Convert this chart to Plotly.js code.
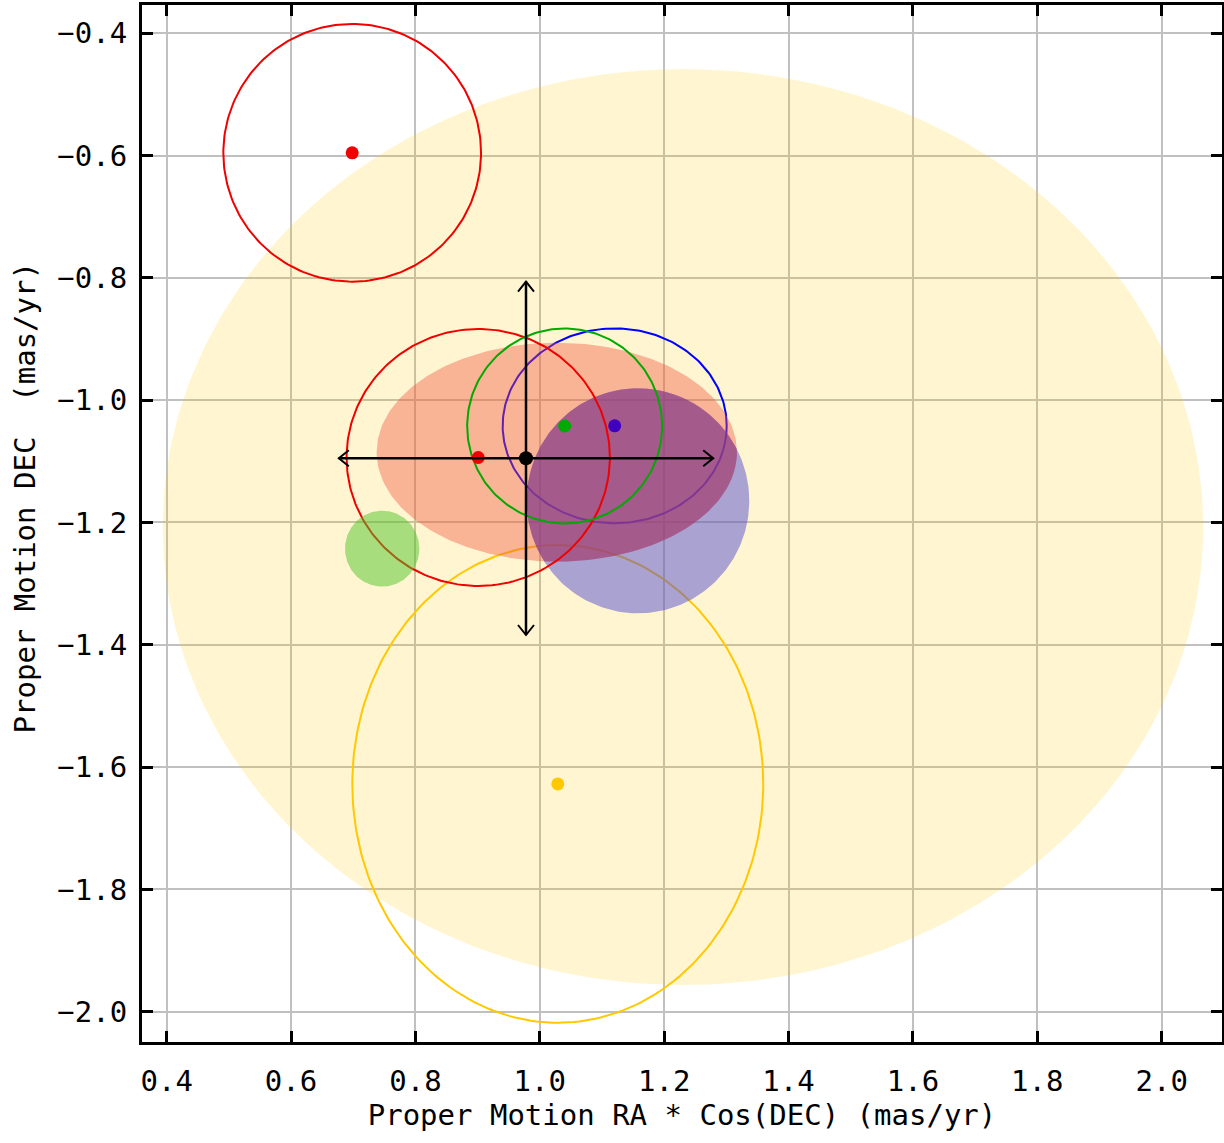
<!DOCTYPE html>
<html>
<head>
<meta charset="utf-8">
<script src="https://cdn.plot.ly/plotly-3.0.1.min.js"></script>
<style>html,body{margin:0;padding:0;background:#fff;}#chart{width:1224px;height:1143px;}</style>
</head>
<body>
<div id="chart"></div>
<script>
// ---------- data ----------
// filled uncertainty regions
const regionNames  = ['yellow region', 'salmon region', 'purple region', 'green region'];
const regionCX     = [1.2302, 1.0273, 1.1578, 0.7465];
const regionCY     = [-1.2074, -1.0850, -1.1645, -1.2428];
const regionRX     = [0.8366, 0.2897, 0.1790, 0.0598];
const regionRY     = [0.7490, 0.1790, 0.1840, 0.0621];

// measured proper motions (point + error circle)
const pmNames = ['red upper', 'red centre', 'green', 'blue', 'orange'];
const pmRA    = [0.6983, 0.9010, 1.0400, 1.1204, 1.0289];
const pmDEC   = [-0.5954, -1.0937, -1.0422, -1.0419, -1.6275];
const pmErrRA = [0.2072, 0.2117, 0.1568, 0.1801, 0.3304];
const pmErrDE = [0.2107, 0.2101, 0.1594, 0.1594, 0.3906];

// mean proper motion with error arrows
const meanRA = [0.9778];
const meanDEC = [-1.0950];
const meanErrRA = [0.3010];
const meanErrDEC = [0.2890];

// axis ticks and titles
const xTickVals = [0.4, 0.6, 0.8, 1.0, 1.2, 1.4, 1.6, 1.8, 2.0];
const xTickText = ['0.4', '0.6', '0.8', '1.0', '1.2', '1.4', '1.6', '1.8', '2.0'];
const yTickVals = [-0.4, -0.6, -0.8, -1.0, -1.2, -1.4, -1.6, -1.8, -2.0];
const yTickText = ['\u22120.4', '\u22120.6', '\u22120.8', '\u22121.0', '\u22121.2', '\u22121.4', '\u22121.6', '\u22121.8', '\u22122.0'];
const xTitle = 'Proper Motion RA * Cos(DEC) (mas/yr)';
const yTitle = 'Proper Motion DEC\u00a0\u00a0(mas/yr)';

// ---------- styling ----------
const FONT = 'DejaVu Sans Mono';
const xRange = [0.3603, 2.097];
const yRange = [-2.0496, -0.3537];
const M = {l: 142, r: 2, t: 5, b: 101};
const W = 1224, H = 1143;
const pxPerX = (W - M.l - M.r) / (xRange[1] - xRange[0]);
const pxPerY = (H - M.t - M.b) / (yRange[1] - yRange[0]);

const regionFill = ['rgba(255,204,0,0.18)', 'rgba(240,80,60,0.40)', 'rgba(85,78,207,0.50)', 'rgba(80,195,40,0.50)'];
const overlapFill = 'rgba(163,51,102,0.50)';
const pmColor = ['rgb(240,0,0)', 'rgb(240,0,0)', 'rgb(0,170,0)', 'rgb(0,0,255)', 'rgb(255,200,0)'];
const pmPointColor = ['rgb(240,0,0)', 'rgb(240,0,0)', 'rgb(0,170,0)', 'rgb(64,0,192)', 'rgb(255,200,0)'];

function ellipse(cx, cy, rx, ry, n) {
  n = n || 240;
  const xs = [], ys = [];
  for (let i = 0; i <= n; i++) {
    const t = 2 * Math.PI * i / n;
    xs.push(cx + rx * Math.cos(t));
    ys.push(cy + ry * Math.sin(t));
  }
  return {x: xs, y: ys};
}
function inside(x, y, cx, cy, rx, ry) {
  const dx = (x - cx) / rx, dy = (y - cy) / ry;
  return dx * dx + dy * dy <= 1;
}
// intersection polygon of two regions (salmon and purple)
function overlap(a, b) {
  const ea = ellipse(regionCX[a], regionCY[a], regionRX[a], regionRY[a], 720);
  const eb = ellipse(regionCX[b], regionCY[b], regionRX[b], regionRY[b], 720);
  const pts = [];
  for (let i = 0; i < ea.x.length; i++)
    if (inside(ea.x[i], ea.y[i], regionCX[b], regionCY[b], regionRX[b], regionRY[b])) pts.push([ea.x[i], ea.y[i]]);
  for (let i = 0; i < eb.x.length; i++)
    if (inside(eb.x[i], eb.y[i], regionCX[a], regionCY[a], regionRX[a], regionRY[a])) pts.push([eb.x[i], eb.y[i]]);
  let mx = 0, my = 0;
  pts.forEach(p => { mx += p[0]; my += p[1]; });
  mx /= pts.length; my /= pts.length;
  pts.sort((p, q) => Math.atan2((p[1] - my) * pxPerY, (p[0] - mx) * pxPerX) - Math.atan2((q[1] - my) * pxPerY, (q[0] - mx) * pxPerX));
  pts.push(pts[0]);
  return {x: pts.map(p => p[0]), y: pts.map(p => p[1])};
}

function regionTrace(i) {
  const e = ellipse(regionCX[i], regionCY[i], regionRX[i], regionRY[i]);
  return {type: 'scatter', mode: 'lines', x: e.x, y: e.y, fill: 'toself',
    fillcolor: regionFill[i], line: {width: 0, color: 'rgba(0,0,0,0)'}, name: regionNames[i], hoverinfo: 'skip'};
}
function circleTrace(i) {
  const e = ellipse(pmRA[i], pmDEC[i], pmErrRA[i], pmErrDE[i]);
  return {type: 'scatter', mode: 'lines', x: e.x, y: e.y,
    line: {width: 2, color: pmColor[i]}, name: pmNames[i] + ' error', hoverinfo: 'skip'};
}
function pointTrace(idx) {
  return {type: 'scatter', mode: 'markers', x: idx.map(i => pmRA[i]), y: idx.map(i => pmDEC[i]),
    marker: {size: 13, color: idx.map(i => pmPointColor[i]), line: {width: 0}}, name: 'points', hoverinfo: 'skip'};
}

const traces = [];
traces.push(regionTrace(0));             // yellow
traces.push(circleTrace(4));             // orange circle
traces.push(pointTrace([4]));
traces.push(circleTrace(3));             // blue circle
traces.push(regionTrace(1));             // salmon
traces.push(regionTrace(2));             // purple
const ov = overlap(1, 2);
traces.push({type: 'scatter', mode: 'lines', x: ov.x, y: ov.y, fill: 'toself', fillcolor: overlapFill,
  line: {width: 0, color: 'rgba(0,0,0,0)'}, name: 'overlap', hoverinfo: 'skip'});
traces.push(circleTrace(0));             // red circles
traces.push(circleTrace(1));
traces.push(regionTrace(3));             // green fill
traces.push(circleTrace(2));             // green circle
traces.push(pointTrace([3, 2, 0, 1]));

// mean with arrows
const cx = meanRA[0], cy = meanDEC[0], ex = meanErrRA[0], ey = meanErrDEC[0];
traces.push({type: 'scatter', mode: 'lines', x: [cx - ex, cx + ex, null, cx, cx], y: [cy, cy, null, cy + ey, cy - ey],
  line: {width: 2.5, color: '#000'}, name: 'mean errors', hoverinfo: 'skip'});
const hl = 10, hw = 8;
const hx = [], hy = [];
[[cx - ex, -1], [cx + ex, 1]].forEach(([tx, s]) => {
  hx.push(tx - s * hl / pxPerX, tx, tx - s * hl / pxPerX, null);
  hy.push(cy + hw / pxPerY, cy, cy - hw / pxPerY, null);
});
[[cy + ey, 1], [cy - ey, -1]].forEach(([ty, s]) => {
  hx.push(cx - hw / pxPerX, cx, cx + hw / pxPerX, null);
  hy.push(ty - s * hl / pxPerY, ty, ty - s * hl / pxPerY, null);
});
traces.push({type: 'scatter', mode: 'lines', x: hx, y: hy, line: {width: 2, color: '#000'}, name: 'arrow heads', hoverinfo: 'skip'});
traces.push({type: 'scatter', mode: 'markers', x: meanRA, y: meanDEC, marker: {size: 14, color: '#000'}, name: 'mean', hoverinfo: 'skip'});

const axisCommon = {
  showline: true, linecolor: '#000', linewidth: 3, mirror: 'ticks',
  ticks: 'inside', ticklen: 11, tickwidth: 3, tickcolor: '#000',
  showgrid: true, gridcolor: '#C0C0C0', gridwidth: 2, zeroline: false,
  tickfont: {family: FONT, size: 29, color: '#000'}, tickmode: 'array', automargin: false
};

const layout = {
  width: W, height: H, margin: M, showlegend: false, hovermode: false,
  paper_bgcolor: '#fff', plot_bgcolor: '#fff',
  font: {family: FONT, color: '#000'},
  xaxis: Object.assign({}, axisCommon, {
    range: xRange, tickvals: xTickVals, ticktext: xTickText, ticklabelstandoff: 11,
    title: {text: xTitle, font: {family: FONT, size: 29, color: '#000'}, standoff: 6}
  }),
  yaxis: Object.assign({}, axisCommon, {
    range: yRange, tickvals: yTickVals, ticktext: yTickText, ticklabelstandoff: 6
  }),
  annotations: [{
    text: yTitle, textangle: -90, xref: 'paper', yref: 'paper',
    x: -0.1079, y: 0.5246, xanchor: 'center', yanchor: 'middle', showarrow: false,
    font: {family: FONT, size: 29, color: '#000'}
  }]
};

Plotly.newPlot('chart', traces, layout, {displayModeBar: false, staticPlot: true});
</script>
</body>
</html>
